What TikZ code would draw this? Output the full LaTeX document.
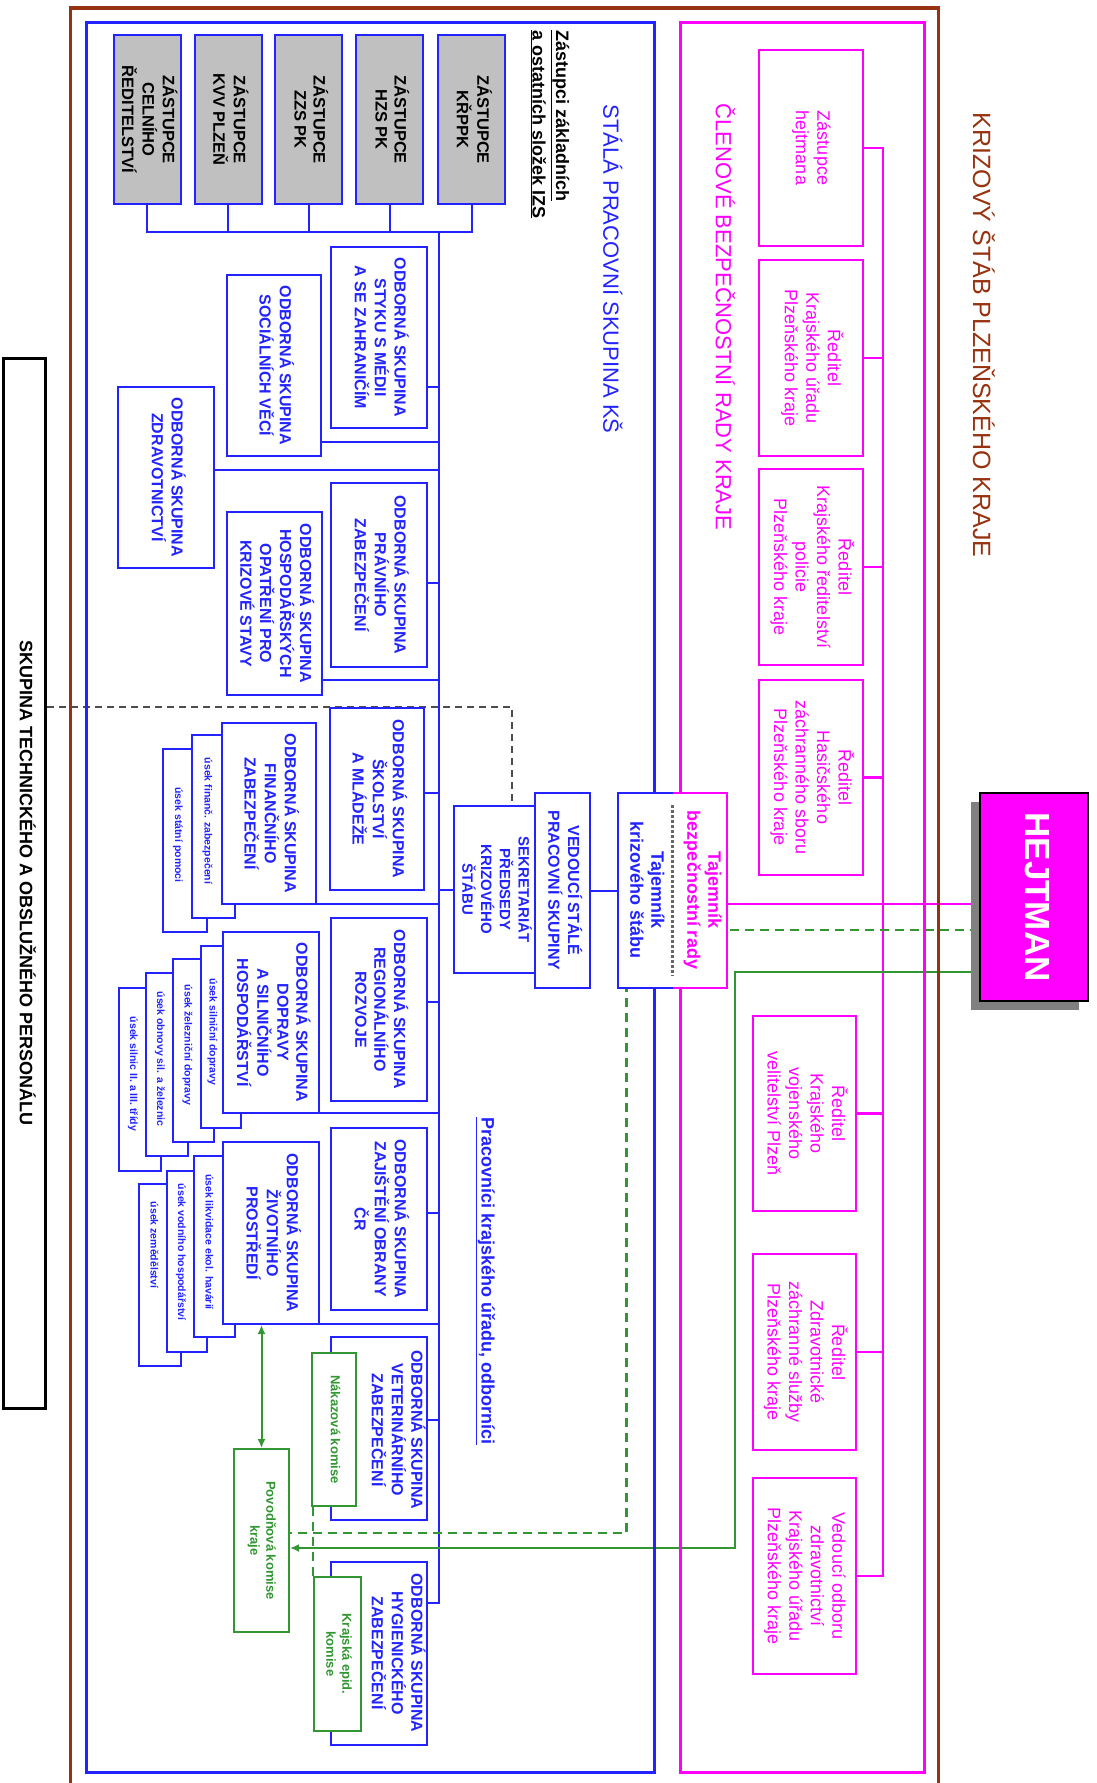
\documentclass[tikz,border=0pt]{standalone}
\usepackage{fontspec}
\setmainfont{Liberation Sans}
\usepackage{graphicx}
\usetikzlibrary{arrows.meta}
\pgfdeclarelayer{bg}
\pgfsetlayers{bg,main}
\definecolor{bl}{RGB}{35,35,255}
\definecolor{pk}{RGB}{255,0,255}
\definecolor{brn}{RGB}{150,50,15}
\definecolor{grn}{RGB}{50,150,50}
\definecolor{gbox}{RGB}{192,192,192}
\newcommand{\rt}[1]{\rotatebox{-90}{\begin{tabular}{@{}c@{}}#1\end{tabular}}}
\newcommand{\rtl}[1]{\rotatebox{-90}{\begin{tabular}{@{}l@{}}#1\end{tabular}}}
\begin{document}
\begin{tikzpicture}[x=1pt,y=-1pt,
  sz/.style 2 args={minimum width=#1, minimum height=#2},
  obox/.style={draw=bl, line width=2pt, fill=white, inner sep=0pt, text=bl, font=\fontsize{16}{19}\selectfont\bfseries},
  otxt/.style={inner sep=0pt, text=bl, font=\fontsize{16}{18.5}\selectfont\bfseries},
  gbx/.style={draw=bl, line width=2pt, fill=gbox, inner sep=0pt, text=black, font=\fontsize{16.5}{19}\selectfont\bfseries},
  sbox/.style={draw=bl, line width=2pt, fill=white, inner sep=0pt},
  stxt/.style={text=bl, inner sep=0pt, font=\fontsize{10.5}{12}\selectfont\bfseries},
  pbox/.style={draw=pk, line width=1.6pt, fill=white, inner sep=0pt, text=pk, font=\fontsize{18}{21.5}\selectfont},
  grbox/.style={draw=grn, line width=2pt, fill=white, inner sep=0pt, text=grn, font=\fontsize{13}{16}\selectfont\bfseries},
  bline/.style={draw=bl, line width=2pt},
  pline/.style={draw=pk, line width=2.5pt},
  gline/.style={draw=grn, line width=2pt},
  gdash/.style={draw=grn, line width=2.5pt, dash pattern=on 9pt off 6pt},
  kdash/.style={draw=black!70, line width=1.5pt, dash pattern=on 7pt off 5pt},
  frame/.style={line width=3pt, inner sep=0pt}
]
\useasboundingbox (0,0) rectangle (1097,1783);
\begin{pgfonlayer}{bg}
\fill[white] (0,0) rectangle (1097,1783);
\end{pgfonlayer}

% ---------- frames ----------
\draw[brn, line width=3.5pt] (70.7,1783) -- (70.7,8) -- (938.6,8) -- (938.6,1783);
\node[frame, draw=bl, sz={567.2}{1750}] (frB) at (370.4,897) {};
\node[frame, draw=pk, sz={244}{1750}] (frP) at (802,897) {};

% ---------- titles ----------
\node[inner sep=0pt, text=brn, font=\fontsize{25}{30}\selectfont] (tK) at (979.5,335) {\rt{KRIZOVÝ ŠTÁB PLZEŇSKÉHO KRAJE}};
\node[inner sep=0pt, text=pk, font=\fontsize{22}{26}\selectfont] (tP) at (721.5,317) {\rt{ČLENOVÉ BEZPEČNOSTNÍ RADY KRAJE}};
\node[inner sep=0pt, text=bl, font=\fontsize{22}{26}\selectfont] (tB) at (609,269) {\rt{STÁLÁ PRACOVNÍ SKUPINA KŠ}};
\node[inner sep=0pt, anchor=north, font=\fontsize{18}{23.5}\selectfont\bfseries] (tZ) at (549,30) {\rtl{\underline{Zástupci základních}\\\underline{a ostatních složek IZS}}};
\node[inner sep=0pt, text=bl, font=\fontsize{18}{22}\selectfont\bfseries] (tPr) at (486,1281) {\rt{\underline{Pracovníci krajského úřadu, odborníci}}};

% ---------- grey representatives ----------
\node[gbx, sz={67}{169}] (g1) at (147,119.5) {\rt{ZÁSTUPCE\\CELNÍHO\\ŘEDITELSTVÍ}};
\node[gbx, sz={67}{169}] (g2) at (228.2,119.5) {\rt{ZÁSTUPCE\\KVV PLZEŇ}};
\node[gbx, sz={67}{169}] (g3) at (308.5,119.5) {\rt{ZÁSTUPCE\\ZZS PK}};
\node[gbx, sz={67}{169}] (g4) at (389.5,119.5) {\rt{ZÁSTUPCE\\HZS PK}};
\node[gbx, sz={67}{169}] (g5) at (471.5,119.5) {\rt{ZÁSTUPCE\\KŘPPK}};

% ---------- right column ----------
\node[obox, sz={96}{181}] (styk) at (379,337.5) {\rt{ODBORNÁ SKUPINA\\STYKU S MÉDII\\A SE ZAHRANIČÍM}};
\node[obox, sz={96}{184}] (prav) at (379,575) {\rt{ODBORNÁ SKUPINA\\PRÁVNÍHO\\ZABEZPEČENÍ}};
\node[obox, sz={94}{182}] (skol) at (377,799) {\rt{ODBORNÁ SKUPINA\\ŠKOLSTVÍ\\A MLÁDEŽE}};
\node[obox, sz={96}{183}] (reg) at (379,1009.5) {\rt{ODBORNÁ SKUPINA\\REGIONÁLNÍHO\\ROZVOJE}};
\node[obox, sz={96}{182}] (obr) at (379,1219) {\rt{ODBORNÁ SKUPINA\\ZAJIŠTĚNÍ OBRANY\\ČR}};
\node[obox, sz={96}{183}] (vet) at (379,1428.5) {};
\node[obox, sz={96}{183}] (hyg) at (379,1653.5) {};

% ---------- left column ----------
\node[obox, sz={94}{181}] (soc) at (274,365.5) {\rt{ODBORNÁ SKUPINA\\SOCIÁLNÍCH VĚCÍ}};
\node[obox, sz={96}{181}] (zdr) at (166,477.5) {\rt{ODBORNÁ SKUPINA\\ZDRAVOTNICTVÍ}};
\node[obox, sz={95}{183}] (hos) at (274.5,603.5) {\rt{ODBORNÁ SKUPINA\\HOSPODÁŘSKÝCH\\OPATŘENÍ PRO\\KRIZOVÉ STAVY}};

% finance
\node[sbox, sz={44}{183}] (fin2) at (185,840.5) {};
\node[stxt] (fin2t) at (177.5,835) {\rt{úsek státní pomoci}};
\node[sbox, sz={43}{183}] (fin1) at (213.5,826.5) {};
\node[stxt] (fin1t) at (207,821) {\rt{úsek finanč. zabezpečení}};
\node[obox, sz={94}{181}] (fin) at (269,813.5) {\rt{ODBORNÁ SKUPINA\\FINANČNÍHO\\ZABEZPEČENÍ}};

% transport
\node[sbox, sz={42}{183}] (dop4) at (140,1079.5) {};
\node[stxt] (dop4t) at (132.5,1074) {\rt{úsek silnic II. a III. třídy}};
\node[sbox, sz={41.5}{183}] (dop3) at (166.8,1064.5) {};
\node[stxt] (dop3t) at (159.5,1059) {\rt{úsek obnovy sil. a železnic}};
\node[sbox, sz={41}{183}] (dop2) at (193.5,1050.5) {};
\node[stxt] (dop2t) at (187,1045) {\rt{úsek železniční dopravy}};
\node[sbox, sz={40}{182}] (dop1) at (221,1037) {};
\node[stxt] (dop1t) at (212,1032) {\rt{úsek silniční dopravy}};
\node[obox, sz={96}{181}] (dop) at (271,1022.5) {\rt{ODBORNÁ SKUPINA\\DOPRAVY\\A SILNIČNÍHO\\HOSPODÁŘSTVÍ}};

% environment
\node[sbox, sz={42}{182}] (ziv3) at (160,1275) {};
\node[stxt] (ziv3t) at (153,1245) {\rt{úsek zemědělství}};
\node[sbox, sz={40}{181}] (ziv2) at (187,1261.5) {};
\node[stxt] (ziv2t) at (180.5,1252) {\rt{úsek vodního hospodářství}};
\node[sbox, sz={41}{181}] (ziv1) at (214.5,1246.5) {};
\node[stxt] (ziv1t) at (208,1242) {\rt{úsek likvidace ekol. havárií}};
\node[obox, sz={96}{182}] (ziv) at (271,1233) {\rt{ODBORNÁ SKUPINA\\ŽIVOTNÍHO\\PROSTŘEDÍ}};

% ---------- green commissions ----------
\node[grbox, sz={43.5}{153}] (nak) at (334,1429.5) {\rt{Nákazová komise}};
\node[grbox, sz={55}{183}] (pov) at (261.5,1540.5) {\rt{Povodňová komise\\kraje}};
\node[grbox, sz={47}{154}] (kep) at (337.5,1654) {\rt{Krajská epid.\\komise}};
\node[otxt] (vett) at (396,1430) {\rt{ODBORNÁ SKUPINA\\VETERINÁRNÍHO\\ZABEZPEČENÍ}};
\node[otxt] (hygt) at (396,1653) {\rt{ODBORNÁ SKUPINA\\HYGIENICKÉHO\\ZABEZPEČENÍ}};

% ---------- technical staff ----------
\node[draw=black, line width=3pt, sz={42}{1050}, inner sep=0pt, font=\fontsize{18}{22}\selectfont\bfseries] (blk) at (24.6,883) {\rt{SKUPINA TECHNICKÉHO A OBSLUŽNÉHO PERSONÁLU}};

% ---------- centre ----------
\node[obox, line width=1.6pt, sz={81}{167}, font=\fontsize{15}{18}\selectfont\bfseries] (sek) at (494.5,889.5) {\rt{SEKRETARIÁT\\PŘEDSEDY\\KRIZOVÉHO\\ŠTÁBU}};
\node[obox, line width=1.6pt, sz={55}{195}, font=\fontsize{16}{19}\selectfont\bfseries] (ved) at (562.5,890.5) {\rt{VEDOUCÍ STÁLÉ\\PRACOVNÍ SKUPINY}};
\node[fill=white, inner sep=0pt, sz={109}{195}] (taj) at (672.5,890.5) {};
\draw[bl, line width=2.5pt] (taj.north) -- (taj.north west) -- (taj.south west) -- (taj.south);
\draw[pk, line width=2.5pt] (taj.north) -- (taj.north east) -- (taj.south east) -- (taj.south);
\draw[black!60, line width=3pt, dash pattern=on 3pt off 2pt] ([yshift=-12pt]taj.north) -- ([yshift=13pt]taj.south);
\node[inner sep=0pt, text=pk, font=\fontsize{18}{21}\selectfont\bfseries] (tajP) at (702,890) {\rt{Tajemník\\bezpečnostní rady}};
\node[inner sep=0pt, text=bl, font=\fontsize{18}{21}\selectfont\bfseries] (tajB) at (645,890) {\rt{Tajemník\\krizového štábu}};

% ---------- council members ----------
\node[pbox, sz={104}{196}] (p1) at (811,148) {\rt{Zástupce\\hejtmana}};
\node[pbox, sz={104}{196}] (p2) at (811,358) {\rt{Ředitel\\Krajského úřadu\\Plzeňského kraje}};
\node[pbox, sz={104}{196}] (p3) at (811,567) {\rt{Ředitel\\Krajského ředitelství\\policie\\Plzeňského kraje}};
\node[pbox, sz={104}{195}] (p4) at (811,777.5) {\rt{Ředitel\\Hasičského\\záchranného sboru\\Plzeňského kraje}};
\node[pbox, sz={103}{195}] (p5) at (804.5,1113.5) {\rt{Ředitel\\Krajského\\vojenského\\velitelství Plzeň}};
\node[pbox, sz={103}{196}] (p6) at (804.5,1352) {\rt{Ředitel\\Zdravotnické\\záchranné služby\\Plzeňského kraje}};
\node[pbox, sz={103}{196}] (p7) at (804.5,1576) {\rt{Vedoucí odboru\\zdravotnictví\\Krajského úřadu\\Plzeňského kraje}};

% ---------- HEJTMAN ----------
\node[fill=black!50, inner sep=0pt, sz={108.5}{208}] (hejs) at (1024.75,906) {};
\node[fill=pk, draw=black, line width=2pt, inner sep=0pt, sz={108.5}{208}, text=white, font=\fontsize{35}{40}\selectfont\bfseries] (hej) at (1033.75,897) {\rt{HEJTMAN}};

% ---------- connectors ----------
\begin{pgfonlayer}{bg}
\coordinate (bt) at (439,232);
\coordinate (bb) at (439,1603);
\draw[bline] (g1.south) |- (g5.south |- bt) -- (g5.south);
\foreach \g in {g2,g3,g4} \draw[bline] (\g.south) -- (\g.south |- bt);
\draw[bline] (bt) -- (bb) -- (hyg.east |- bb);
\foreach \n/\yy in {styk/387, prav/583, skol/793, reg/1002, obr/1213, vet/1420,
                    soc/442, zdr/470, hos/680, fin/904, dop/1113, ziv/1324, sek/889.5} {
  \coordinate (tmp) at (439,\yy);
  \draw[bline] (tmp) -- (\n.east |- tmp);
}
\draw[bline] (ved.east) -- (taj.west);
% grey dashed
\coordinate (kd) at (512,707);
\draw[kdash] (blk.east |- kd) -- (kd) -- (sek.north -| kd);
% pink bus
\coordinate (pbT) at (883,148);
\coordinate (pbB) at (883,1576);
\draw[pline] (p1.east) -- (pbT) -- (pbB) -- (p7.east);
\foreach \n in {p2,p3,p4,p5,p6} \draw[pline] (\n.east) -- (\n.east -| pbT);
\coordinate (ph) at (800,904);
\draw[pline] (hej.west |- ph) -- (taj.east |- ph);
% green
\coordinate (gd1) at (626.5,930);
\coordinate (gd2) at (626.5,1533);
\draw[gdash] (hej.west |- gd1) -- (gd1) -- (gd2) -- (pov.east |- gd2);
\coordinate (gs1) at (735,972);
\coordinate (gs2) at (735,1548);
\draw[gline, -{Latex[length=9pt,width=8pt]}] (hej.west |- gs1) -- (gs1) -- (gs2) -- (pov.east |- gs2);
\draw[gline, {Latex[length=9pt,width=8pt]}-{Latex[length=9pt,width=8pt]}] (pov.north) -- (pov.north |- ziv.south);
\draw[gdash, line width=2pt] (kep.north west) -- (kep.north west |- nak.south);
\end{pgfonlayer}
\end{tikzpicture}
\end{document}
